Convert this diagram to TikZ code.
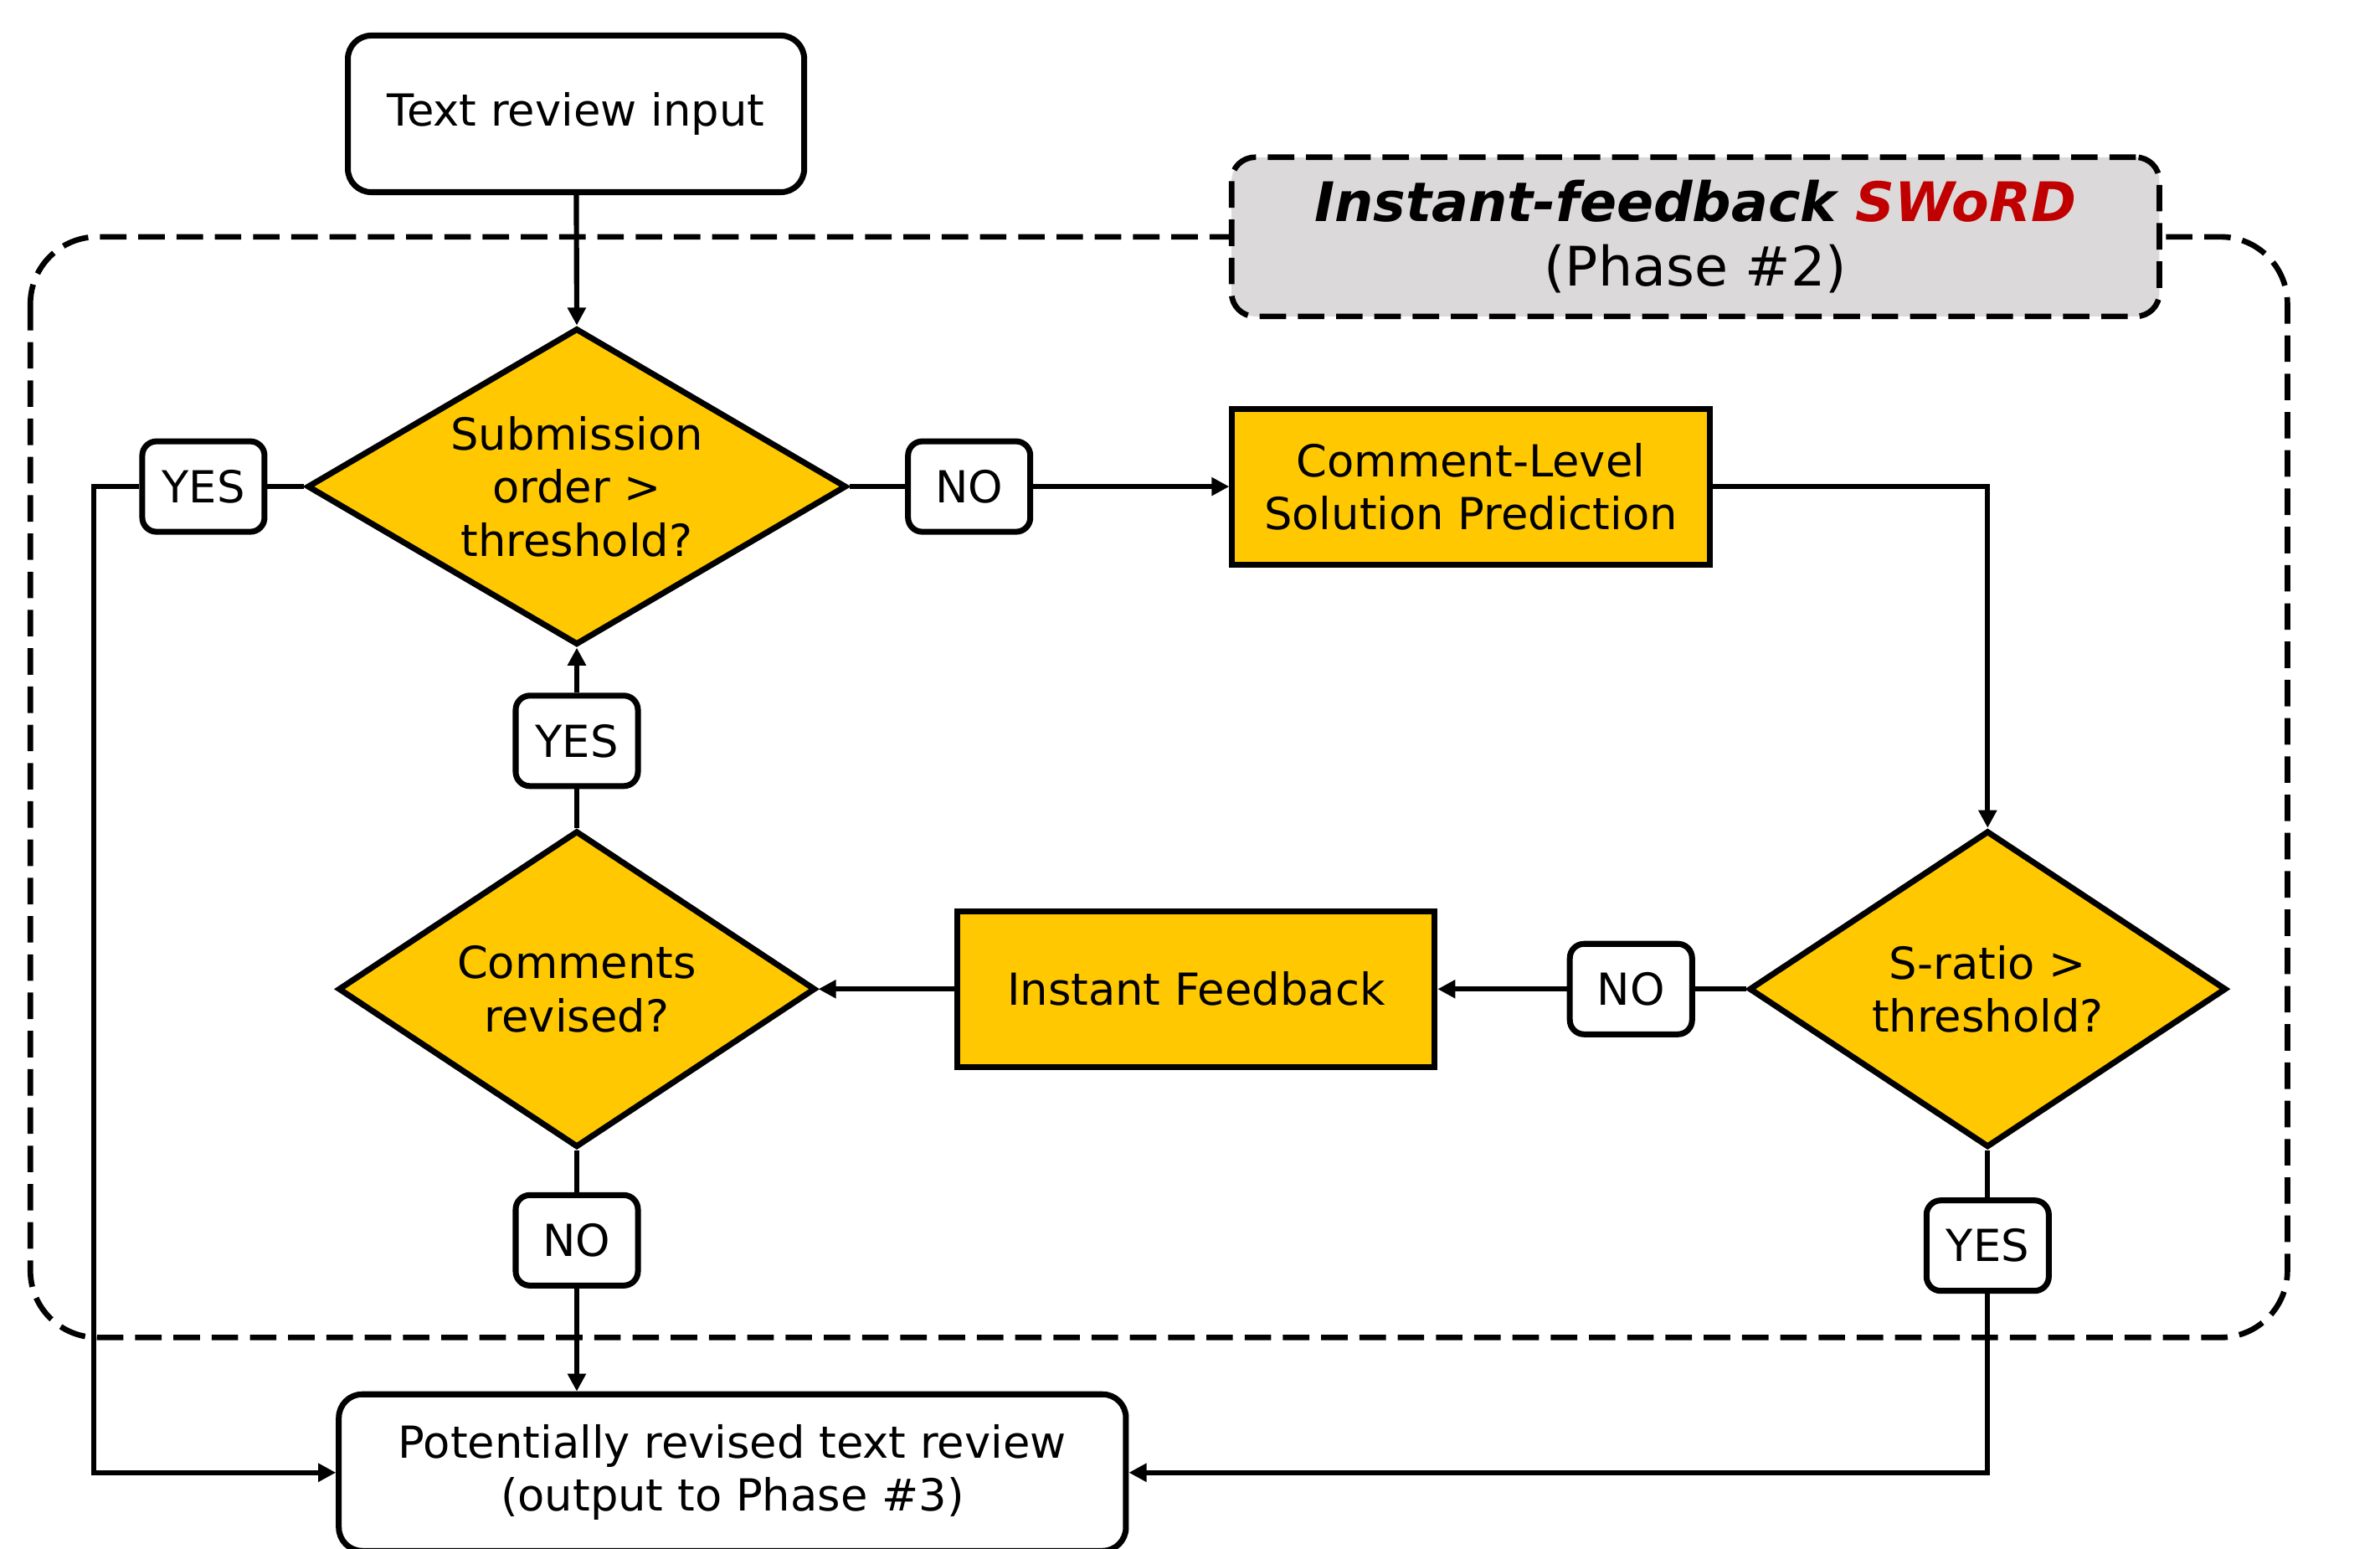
\documentclass[tikz,border=0pt]{standalone}
\usepackage{fontspec}
\setmainfont{DejaVu Sans}
\usetikzlibrary{shapes.geometric,arrows.meta}
\definecolor{gold}{HTML}{FFC800}
\definecolor{titlegray}{HTML}{DCD9DA}
\definecolor{swordred}{HTML}{C00000}
\begin{document}
\begin{tikzpicture}[x=0.018131cm,y=-0.018131cm,
  every node/.style={font=\fontsize{15}{18}\selectfont, align=center, inner sep=0pt},
  conn/.style={line width=1.75pt},
  arr/.style={conn,-{Triangle[length=6pt,width=6pt]}},
  whitebox/.style={draw, line width=2pt, rounded corners=0.28cm, fill=white},
  goldbox/.style={draw, line width=2pt, fill=gold, minimum width=5.7cm, minimum height=1.86cm},
  decision/.style={draw, diamond, line width=2pt, fill=gold, minimum height=3.78cm},
  lbl/.style={draw, line width=2pt, rounded corners=0.17cm, fill=white, minimum width=1.46cm, minimum height=1.08cm},
  phasebox/.style={draw, line width=1.9pt, dash pattern=on 9pt off 4pt, rounded corners=0.8cm}
]
\useasboundingbox (0,0) rectangle (1568,1020);

% phase frame
\draw[phasebox] (20,156) rectangle (1507,881);
\node[draw, line width=1.9pt, dash pattern=on 9pt off 4pt, rounded corners=0.28cm, fill=titlegray,
      minimum width=11.08cm, minimum height=1.9cm, font=\fontsize{18.5}{22}\selectfont] (title) at (1117,156)
  {\textbf{\textit{Instant-feedback \textcolor{swordred}{SWoRD}}}\\(Phase \#2)};

% nodes
\node[whitebox, minimum width=5.45cm, minimum height=1.87cm] (txt) at (379.5,75) {Text review input};
\node[decision, minimum width=6.44cm, aspect=1.7] (d1) at (380,320.5) {Submission\\order >\\threshold?};
\node[lbl] (yes1) at (134,320.5) {YES};
\node[lbl] (no1) at (638.5,320.5) {NO};
\node[goldbox] (clsp) at (969,320.5) {Comment-Level\\Solution Prediction};
\node[decision, minimum width=5.7cm, aspect=1.5] (d3) at (1309.5,651.5) {S-ratio >\\threshold?};
\node[lbl] (no2) at (1074.5,651.5) {NO};
\node[goldbox] (fb) at (788,651.5) {Instant Feedback};
\node[decision, minimum width=5.7cm, aspect=1.5] (d2) at (380,651.5) {Comments\\revised?};
\node[lbl] (yes2) at (380,488) {YES};
\node[lbl] (no3) at (380,817) {NO};
\node[lbl] (yes3) at (1309.5,820.5) {YES};
\node[whitebox, minimum width=9.4cm, minimum height=1.87cm] (out) at (482.5,970)
  {Potentially revised text review\\(output to Phase \#3)};
\coordinate (lc) at (62,970);

% connectors
\draw[arr] (txt) -- (d1.north);
\draw[conn] (d1.west) -- (yes1.east);
\draw[arr] (yes1.west) -| (lc) -- (out.west);
\draw[conn] (d1.east) -- (no1.west);
\draw[arr] (no1.east) -- (clsp.west);
\draw[arr] (clsp.east) -| (d3.north);
\draw[conn] (d3.west) -- (no2.east);
\draw[arr] (no2.west) -- (fb.east);
\draw[arr] (fb.west) -- (d2.east);
\draw[conn] (d2.north) -- (yes2.south);
\draw[arr] (yes2.north) -- (d1.south);
\draw[conn] (d2.south) -- (no3.north);
\draw[arr] (no3.south) -- (no3.south |- out.north);
\draw[conn] (d3.south) -- (yes3.north);
\draw[arr] (yes3.south) |- (out.east);
\end{tikzpicture}
\end{document}
